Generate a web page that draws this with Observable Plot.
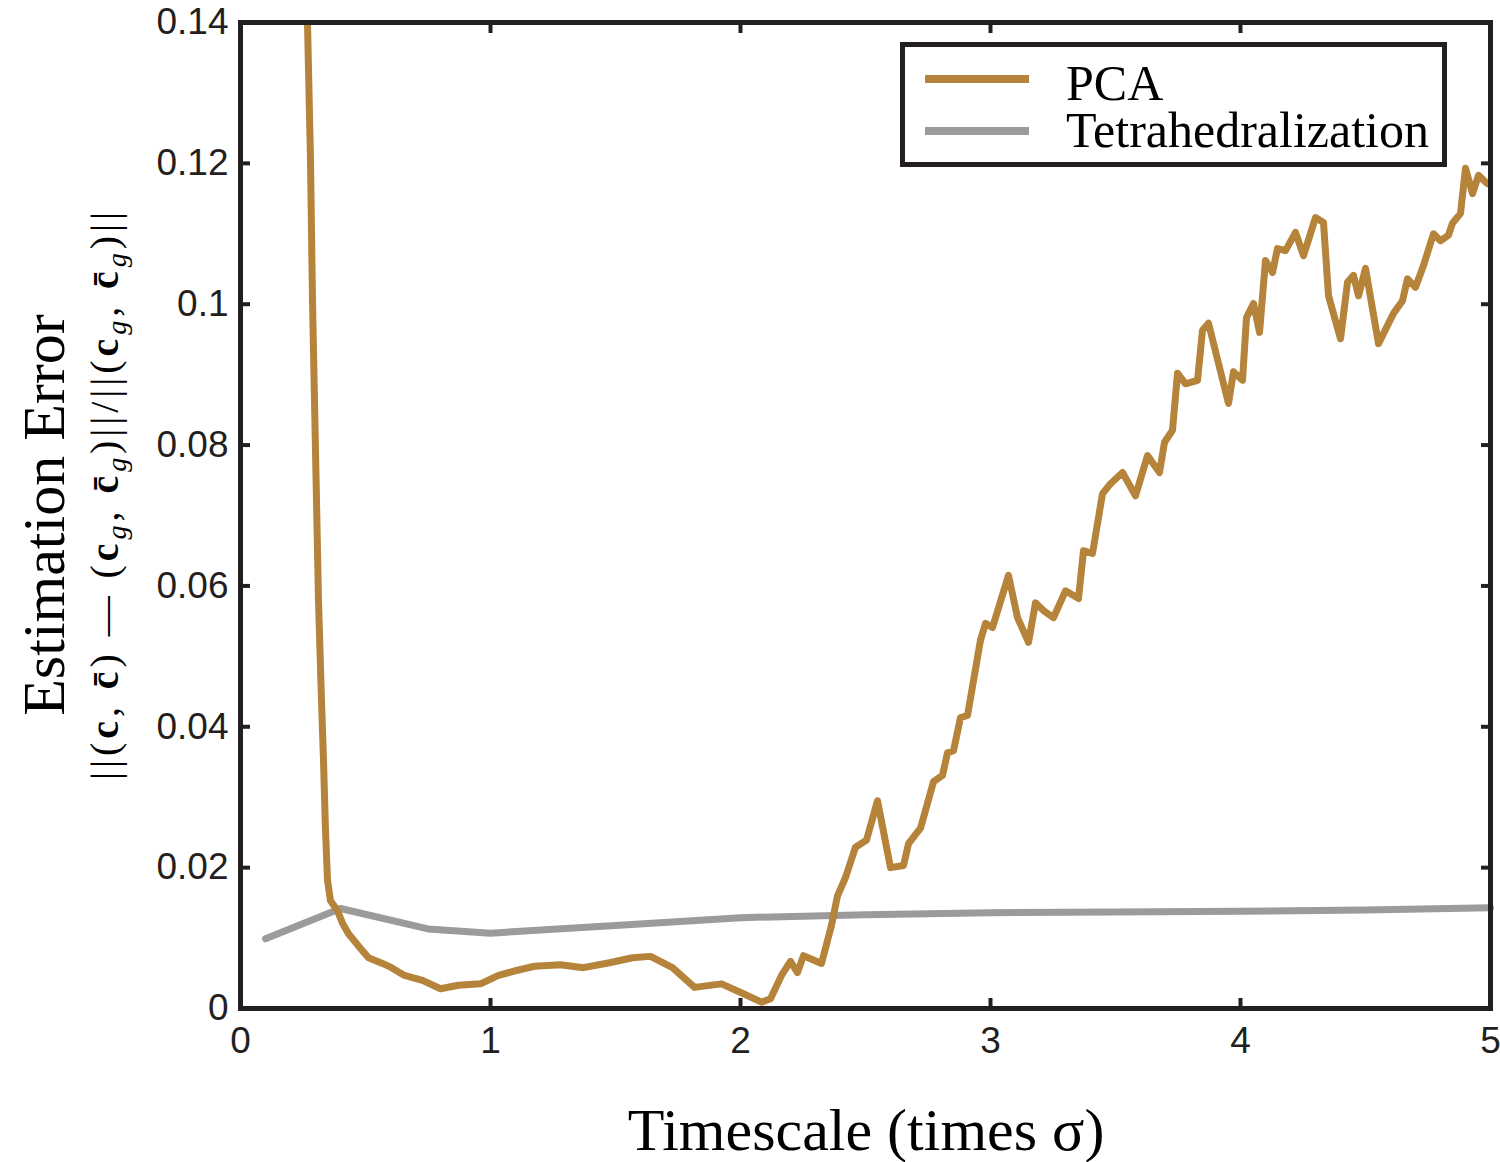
<!DOCTYPE html>
<html>
<head>
<meta charset="utf-8">
<script src="https://cdn.jsdelivr.net/npm/d3@7"></script>
<script src="https://cdn.jsdelivr.net/npm/@observablehq/plot@0.6"></script>
<style>
  html, body { margin: 0; padding: 0; background: #fff; }
  #wrap { position: relative; width: 1500px; height: 1162px; }
  #overlay { position: absolute; left: 0; top: 0; pointer-events: none; }
</style>
</head>
<body>
<div id="wrap"></div>
<script>
// ---- data ----
const xTicks = [0, 1, 2, 3, 4, 5];
const yTicks = [0, 0.02, 0.04, 0.06, 0.08, 0.1, 0.12, 0.14];
const seriesNames = ["PCA", "Tetrahedralization"];

const pcaX = [0.266,0.268,0.280,0.288,0.300,0.312,0.324,0.332,0.340,0.348,0.360,0.388,0.408,0.432,0.476,0.512,0.568,0.604,0.656,0.728,0.800,0.872,0.960,1.032,1.104,1.176,1.280,1.372,1.476,1.568,1.640,1.728,1.816,1.924,2.012,2.084,2.120,2.164,2.200,2.228,2.252,2.324,2.364,2.388,2.420,2.460,2.504,2.548,2.600,2.652,2.672,2.720,2.772,2.808,2.828,2.852,2.880,2.908,2.960,2.980,3.008,3.072,3.108,3.152,3.180,3.212,3.252,3.300,3.352,3.372,3.408,3.448,3.480,3.528,3.580,3.628,3.676,3.696,3.728,3.748,3.780,3.828,3.848,3.872,3.952,3.972,4.008,4.024,4.052,4.076,4.100,4.128,4.148,4.180,4.220,4.252,4.300,4.332,4.352,4.400,4.428,4.452,4.472,4.500,4.552,4.612,4.648,4.668,4.700,4.732,4.772,4.800,4.832,4.848,4.880,4.900,4.928,4.952,4.988];
const pcaY = [0.1500,0.1400,0.1204,0.1005,0.0792,0.0579,0.0437,0.0352,0.0253,0.0182,0.0153,0.0139,0.0121,0.0106,0.0087,0.0072,0.0064,0.0058,0.0047,0.0040,0.0028,0.0033,0.0035,0.0047,0.0054,0.0060,0.0062,0.0058,0.0065,0.0072,0.0074,0.0058,0.0030,0.0035,0.0021,0.0009,0.0014,0.0047,0.0067,0.0051,0.0075,0.0064,0.0118,0.0160,0.0186,0.0229,0.0239,0.0295,0.0200,0.0203,0.0234,0.0256,0.0322,0.0331,0.0363,0.0366,0.0413,0.0416,0.0523,0.0547,0.0541,0.0615,0.0555,0.0520,0.0576,0.0565,0.0555,0.0593,0.0582,0.0650,0.0646,0.0731,0.0745,0.0761,0.0728,0.0785,0.0761,0.0804,0.0821,0.0902,0.0887,0.0892,0.0963,0.0973,0.0859,0.0904,0.0892,0.0981,0.1001,0.0960,0.1062,0.1045,0.1079,0.1076,0.1102,0.1069,0.1123,0.1116,0.1012,0.0951,0.1031,0.1041,0.1012,0.1051,0.0944,0.0987,0.1005,0.1036,0.1024,0.1055,0.1100,0.1090,0.1098,0.1115,0.1129,0.1193,0.1157,0.1183,0.1171];

const tetX = [0.1, 0.4, 0.75, 1.0, 1.5, 2.0, 2.5, 3.0, 3.5, 4.0, 4.5, 5.0];
const tetY = [0.0099, 0.0142, 0.0113, 0.0107, 0.0118, 0.0129, 0.0133, 0.0136, 0.0137, 0.0138, 0.0140, 0.0143];

const colors = ["#b5833a", "#9b9b9b"];
const ink = "#231f20";

const pca = pcaX.map((x, i) => ({x, y: pcaY[i]}));
const tet = tetX.map((x, i) => ({x, y: tetY[i]}));

const W = 1500, H = 1162;
const mL = 240, mR = 10, mT = 22, mB = 154;

const fmtY = d => String(+d.toFixed(2));
const fmtX = d => String(d);

const chart = Plot.plot({
  width: W, height: H,
  marginLeft: mL, marginRight: mR, marginTop: mT, marginBottom: mB,
  style: { fontFamily: "'Liberation Sans', Arial, sans-serif", background: "#fff", color: ink, overflow: "visible" },
  x: { domain: [0, 5] },
  y: { domain: [0, 0.14] },
  marks: [
    Plot.line(tet, {x: "x", y: "y", stroke: colors[1], strokeWidth: 7, strokeLinejoin: "round"}),
    Plot.line(pca, {x: "x", y: "y", stroke: colors[0], strokeWidth: 7, strokeLinejoin: "round", clip: true}),
    Plot.axisX({anchor: "bottom", ticks: xTicks, tickSize: -10, tickFormat: () => "", label: null, stroke: ink, strokeWidth: 4}),
    Plot.axisX({anchor: "top", ticks: xTicks, tickSize: -10, tickFormat: () => "", label: null, stroke: ink, strokeWidth: 4}),
    Plot.axisY({anchor: "left", ticks: yTicks, tickSize: -10, tickFormat: () => "", label: null, stroke: ink, strokeWidth: 4}),
    Plot.axisY({anchor: "right", ticks: yTicks, tickSize: -10, tickFormat: () => "", label: null, stroke: ink, strokeWidth: 4}),
    Plot.axisX({anchor: "bottom", ticks: xTicks, tickSize: 0, tickPadding: 18, fontSize: 37, label: null, tickFormat: fmtX, fill: ink}),
    Plot.axisY({anchor: "left", ticks: yTicks, tickSize: 0, tickPadding: 12, fontSize: 37, label: null, tickFormat: fmtY, fill: ink}),
    Plot.frame({stroke: ink, strokeWidth: 5})
  ]
});

const wrap = document.getElementById("wrap");
wrap.appendChild(chart);

// ---- overlay text: titles and legend ----
const ov = d3.select(wrap).append("svg")
  .attr("id", "overlay").attr("width", W).attr("height", H);

const serif = "'Liberation Serif', 'Times New Roman', serif";

ov.append("text")
  .attr("x", 866).attr("y", 1150)
  .attr("text-anchor", "middle")
  .attr("font-family", serif).attr("font-size", 60).attr("fill", "#000")
  .text("Timescale (times σ)");

ov.append("text")
  .attr("transform", "translate(64,515) rotate(-90)")
  .attr("text-anchor", "middle")
  .attr("font-family", serif).attr("font-size", 60).attr("fill", "#000")
  .text("Estimation Error");

// formula
const f = ov.append("text")
  .attr("transform", "translate(118,780) rotate(-90)")
  .attr("font-family", serif).attr("font-size", 40).attr("fill", "#000")
  .attr("textLength", 568).attr("lengthAdjust", "spacing");
const parts = [
  ["||(", ""], ["c", "b"], [", ", ""], ["c\u0304", "b"], [") \u2014 (", ""],
  ["c", "b"], ["g", "s"], [", ", ""], ["c\u0304", "b"], ["g", "s"], [")||/||(", ""],
  ["c", "b"], ["g", "s"], [", ", ""], ["c\u0304", "b"], ["g", "s"], [")||", ""]
];
parts.forEach(([t, k], i) => {
  const ts = f.append("tspan").text(t);
  const prev = i > 0 ? parts[i - 1][1] : "";
  if (k === "b") ts.attr("font-weight", "bold");
  if (k === "s") ts.attr("font-style", "italic").attr("font-size", 28).attr("dy", 8);
  else if (prev === "s") ts.attr("dy", -8);
});

// legend
ov.append("rect")
  .attr("x", 902.5).attr("y", 44.5).attr("width", 542).attr("height", 120)
  .attr("fill", "#fff").attr("stroke", ink).attr("stroke-width", 5);
const legY = [79, 131];
const legBase = [100, 147];
seriesNames.forEach((name, i) => {
  ov.append("line")
    .attr("x1", 925).attr("x2", 1029).attr("y1", legY[i]).attr("y2", legY[i])
    .attr("stroke", colors[i]).attr("stroke-width", 8);
  ov.append("text")
    .attr("x", 1066).attr("y", legBase[i])
    .attr("font-family", serif).attr("font-size", 50).attr("fill", "#000")
    .text(name);
});
</script>
</body>
</html>
